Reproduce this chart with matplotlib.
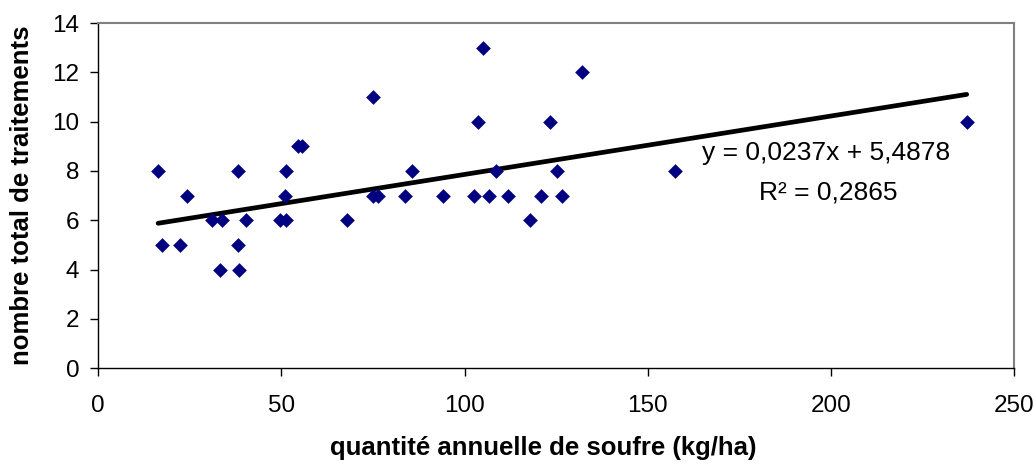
import numpy as np
import matplotlib
matplotlib.use("Agg")
import matplotlib.pyplot as plt

plt.rcParams['font.family'] = ['Liberation Sans', 'DejaVu Sans']

# quantité annuelle de soufre (kg/ha) vs nombre total de traitements
soufre = [16.4, 17.4, 22.3, 24.3, 31.2, 33.8, 33.3, 38.1, 38.1, 38.4,
          40.4, 49.6, 51.3, 51.0, 51.2, 54.6, 55.6, 68.0, 75.0, 75.0,
          76.5, 83.8, 85.8, 94.2, 102.5, 103.6, 105.0, 106.6, 108.7, 111.9,
          117.9, 120.9, 123.3, 125.1, 126.7, 132.1, 157.4, 237.0]
traitements = [8, 5, 5, 7, 6, 6, 4, 8, 5, 4,
               6, 6, 6, 7, 8, 9, 9, 6, 11, 7,
               7, 7, 8, 7, 7, 10, 13, 7, 8, 7,
               6, 7, 10, 8, 7, 12, 8, 10]

# droite de tendance (affichée sur le graphique)
pente = 0.0237
ordonnee = 5.4878
r2 = 0.2865

fig = plt.figure(figsize=(10.36, 4.66), dpi=100)
ax = fig.add_axes([0.0946, 0.21, 0.8845, 0.7406])

ax.scatter(soufre, traitements, marker='D', s=7.5**2, color='#000080',
           linewidths=0, zorder=3)

xt = np.array([min(soufre), max(soufre)])
ax.plot(xt, pente * xt + ordonnee, color='black', lw=3.4,
        solid_capstyle='round', zorder=2)

ax.text(0.794, 0.623, "y = 0,0237x + 5,4878", transform=ax.transAxes,
        fontsize=19, ha='center', va='center')
ax.text(0.797, 0.510, "R² = 0,2865", transform=ax.transAxes,
        fontsize=19, ha='center', va='center')

ax.set_xlim(0, 250)
ax.set_ylim(0, 14)
ax.set_xticks(range(0, 251, 50))
ax.set_yticks(range(0, 15, 2))

for side in ['top', 'right']:
    ax.spines[side].set_color('#808080')
    ax.spines[side].set_linewidth(1.5)
for side in ['left', 'bottom']:
    ax.spines[side].set_color('black')
    ax.spines[side].set_linewidth(1.0)

ax.tick_params(axis='both', direction='out', length=5.5, width=1.0,
               labelsize=17.5)
ax.tick_params(axis='y', pad=8)
ax.tick_params(axis='x', pad=14)

ax.set_xlabel("quantité annuelle de soufre (kg/ha)", fontsize=18.5,
              fontweight='bold')
ax.xaxis.set_label_coords(0.486, -0.197)
ax.set_ylabel("nombre total de traitements", fontsize=18.5,
              fontweight='bold', labelpad=13)

fig.savefig("out.png", dpi=100)
